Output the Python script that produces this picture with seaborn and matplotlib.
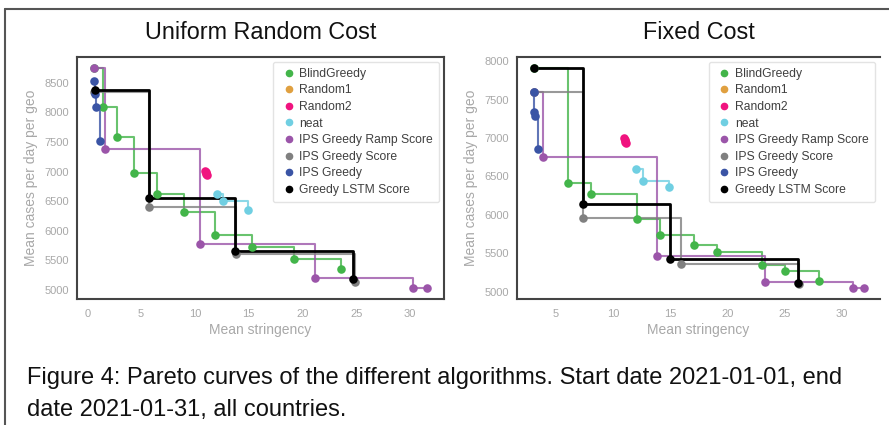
import pandas as pd
import matplotlib.pyplot as plt
import seaborn as sns
from matplotlib.lines import Line2D

sns.set_theme(style='white')
plt.rcParams['font.family'] = ['Liberation Sans', 'DejaVu Sans']

algos = ['BlindGreedy', 'Random1', 'Random2', 'neat', 'IPS Greedy Ramp Score',
         'IPS Greedy Score', 'IPS Greedy', 'Greedy LSTM Score']
colors = ['#43b54a', '#e0a040', '#f0137f', '#70cfe2', '#9b55a9',
          '#808080', '#3a54a5', '#000000']
scatter_only = ['Random1', 'Random2']

# --- Uniform Random Cost ---
uni_x = {
    'BlindGreedy': [0.6, 1.49, 2.73, 4.38, 6.52, 9.0, 11.9, 15.3, 19.2, 23.55],
    'Random1': [11.05],
    'Random2': [10.95, 11.0, 11.05, 11.1],
    'neat': [12.1, 12.6, 14.9],
    'IPS Greedy Ramp Score': [0.62, 1.65, 10.5, 21.15, 30.3, 31.6],
    'IPS Greedy Score': [0.65, 5.78, 13.8, 24.9],
    'IPS Greedy': [0.62, 0.71, 0.77, 1.15],
    'Greedy LSTM Score': [0.68, 5.75, 13.7, 24.7],
}
uni_y = {
    'BlindGreedy': [8745, 8090, 7586, 6971, 6619, 6316, 5930, 5729, 5532, 5348],
    'Random1': [6985],
    'Random2': [7015, 6990, 6965, 6950],
    'neat': [6624, 6506, 6350],
    'IPS Greedy Ramp Score': [8752, 7380, 5784, 5208, 5034, 5034],
    'IPS Greedy Score': [8340, 6411, 5616, 5141],
    'IPS Greedy': [8538, 8315, 8101, 7519],
    'Greedy LSTM Score': [8387, 6562, 5667, 5180],
}

# --- Fixed Cost ---
fix_x = {
    'BlindGreedy': [3.06, 6.04, 8.09, 12.08, 14.1, 17.08, 19.08, 23.07, 25.0, 28.0],
    'Random1': [11.08],
    'Random2': [11.0, 11.05, 11.1, 11.12],
    'neat': [12.02, 12.66, 14.89],
    'IPS Greedy Ramp Score': [3.06, 3.92, 13.87, 23.27, 30.96, 31.9],
    'IPS Greedy Score': [3.06, 7.37, 15.93, 26.3],
    'IPS Greedy': [3.06, 3.12, 3.2, 3.49],
    'Greedy LSTM Score': [3.06, 7.37, 14.97, 26.2],
}
fix_y = {
    'BlindGreedy': [7913, 6414, 6275, 5951, 5743, 5605, 5519, 5345, 5267, 5137],
    'Random1': [6970],
    'Random2': [6995, 6975, 6955, 6940],
    'neat': [6603, 6444, 6357],
    'IPS Greedy Ramp Score': [7602, 6759, 5462, 5130, 5047, 5047],
    'IPS Greedy Score': [7602, 5960, 5363, 5095],
    'IPS Greedy': [7602, 7343, 7287, 6859],
    'Greedy LSTM Score': [7913, 6145, 5428, 5117],
}

uni_yticks = [5000, 5500, 6000, 6500, 7000, 7500, 8000, 8500]
fix_yticks = [5000, 5500, 6000, 6500, 7000, 7500, 8000]


def to_frame(xs, ys):
    rows = []
    for a in algos:
        for x, y in zip(xs[a], ys[a]):
            rows.append({'algo': a, 'stringency': x, 'cases': y})
    return pd.DataFrame(rows)


fig = plt.figure(figsize=(8.89, 4.25), dpi=100)
ax1 = fig.add_axes([77 / 889, 1 - 299 / 425, 367 / 889, 242 / 425])
ax2 = fig.add_axes([517 / 889, 1 - 299 / 425, 363 / 889, 242 / 425])

tick_grey = '#a8a8a8'

for ax, xs, ys, title, yticks in [(ax1, uni_x, uni_y, 'Uniform Random Cost', uni_yticks),
                                  (ax2, fix_x, fix_y, 'Fixed Cost', fix_yticks)]:
    df = to_frame(xs, ys)
    for a, c in zip(algos, colors):
        sub = df[df['algo'] == a]
        if a not in scatter_only:
            sns.lineplot(data=sub, x='stringency', y='cases', color=c,
                         drawstyle='steps-post', estimator=None, sort=True,
                         lw=2.0 if a == 'Greedy LSTM Score' else 1.5,
                         alpha=1.0 if a == 'Greedy LSTM Score' else 0.8, ax=ax)
        sns.scatterplot(data=sub, x='stringency', y='cases', color=c, s=38,
                        linewidth=0, ax=ax, zorder=3)
    ax.set_yticks(yticks)
    ax.set_title(title, fontsize=16.8, color='#111111', pad=13)
    ax.set_xlabel('Mean stringency', fontsize=10, color=tick_grey, labelpad=3)
    ax.set_ylabel('Mean cases per day per geo', fontsize=10, color=tick_grey, labelpad=5)
    ax.tick_params(axis='both', labelsize=8, colors=tick_grey, length=0)
    ax.tick_params(axis='y', pad=5.5)
    ax.tick_params(axis='x', pad=7)
    for s in ax.spines.values():
        s.set_color('#444444')
        s.set_linewidth(1.5)
    handles = [Line2D([], [], marker='o', ls='', color=c, markersize=4.5) for c in colors]
    leg = ax.legend(handles, algos, loc='upper right', fontsize=8.7, frameon=True,
                    borderaxespad=0.4, handlelength=1.6, handletextpad=0.1,
                    borderpad=0.5, labelspacing=0.38, fancybox=True)
    leg.get_frame().set_edgecolor('#dddddd')
    for t in leg.get_texts():
        t.set_color('#404040')

ax2.spines['right'].set_visible(False)

# outer frame of the figure panel
fig.add_artist(Line2D([5 / 889, 1], [1 - 9 / 425, 1 - 9 / 425], color='#555555', lw=1.5))
fig.add_artist(Line2D([5 / 889, 5 / 889], [0, 1 - 9 / 425], color='#555555', lw=1.5))

fig.text(27 / 889, 1 - 384 / 425,
         'Figure 4: Pareto curves of the different algorithms. Start date 2021-01-01, end',
         fontsize=17, color='#111111', va='baseline')
fig.text(27 / 889, 1 - 416 / 425, 'date 2021-01-31, all countries.',
         fontsize=17, color='#111111', va='baseline')

plt.savefig('out.png', dpi=100)
